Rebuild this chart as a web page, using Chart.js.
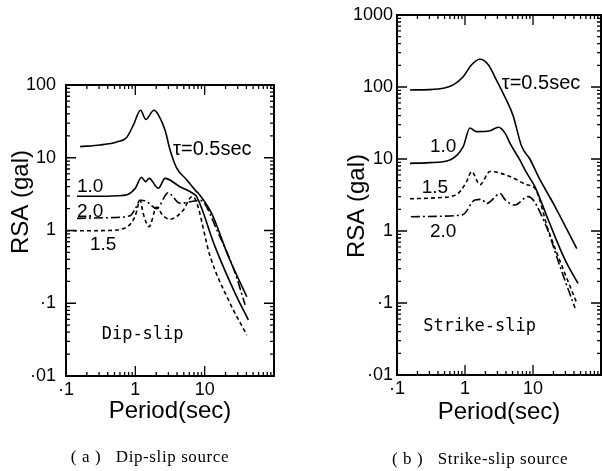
<!DOCTYPE html>
<html lang="en">
<head>
  <meta charset="UTF-8" />
  <title>RSA spectra - dip-slip / strike-slip</title>
  <script src="https://cdn.jsdelivr.net/npm/chart.js"></script>
  <style>
    body { margin: 0; background: #fff; }
    #wrap { position: relative; width: 602px; height: 471px; overflow: hidden; }
    canvas { position: absolute; top: 0; }
    #dip { left: 0; }
    #strike { left: 300px; }
    .cap { position: absolute; text-align: center; white-space: pre;
           font-family: "Liberation Serif", "DejaVu Serif", serif; font-size: 17px; letter-spacing: 0.6px; }
  </style>
</head>
<body>
  <div id="wrap">
    <canvas id="dip" width="300" height="471"></canvas>
    <canvas id="strike" width="302" height="471"></canvas>
    <div class="cap" style="left:0; width:300px; top:447px;">( a )   Dip-slip source</div>
    <div class="cap" style="left:330px; width:300px; top:449px;">( b )   Strike-slip source</div>
  </div>

  <script>
    const FONT = '"Liberation Sans", Arial, sans-serif';

    // axes
    const periodTicks = [0.1, 1, 10];
    const periodTickLabels = ['·1', '1', '10'];
    const dipRsaTicks = [0.01, 0.1, 1, 10, 100];
    const dipRsaTickLabels = ['·01', '·1', '1', '10', '100'];
    const strikeRsaTicks = [0.01, 0.1, 1, 10, 100, 1000];
    const strikeRsaTickLabels = ['·01', '·1', '1', '10', '100', '1000'];
    const tauNames = ['0.5', '1.0', '1.5', '2.0'];

    // [period (sec), RSA (gal)] - dip-slip source
    const dipTau05 = [[0.16, 14.2], [0.31, 15], [0.54, 16.5], [0.75, 19], [0.94, 28.4], [1.19, 45], [1.41, 33.7],
      [1.86, 45], [2.15, 38.8], [2.68, 24], [3.17, 12.8], [3.95, 7.2], [5.5, 5.0], [7.7, 3.4], [8.1, 3.25],
      [12.6, 1.72], [22, 0.44], [40.5, 0.123]];
    const dipTau10 = [[0.144, 2.95], [0.3, 2.95], [0.55, 3.0], [0.76, 3.1], [1.0, 3.8], [1.23, 5.4], [1.4, 4.7],
      [1.58, 5.2], [2.15, 3.8], [2.68, 5.2], [4.4, 4.0], [6.9, 3.2], [7.7, 2.9], [14.1, 0.6], [27.5, 0.137], [42.7, 0.059]];
    const dipTau15 = [[0.1, 0.99], [0.4, 1.0], [0.76, 1.12], [1.0, 1.6], [1.17, 2.6], [1.3, 1.7], [1.58, 1.13],
      [2.03, 2.1], [2.5, 1.6], [3.17, 1.43], [4.9, 1.9], [6.5, 2.9], [7.3, 2.7], [12, 0.44], [22, 0.111], [40.5, 0.0366]];
    const dipTau20 = [[0.144, 1.47], [0.4, 1.5], [0.84, 1.6], [1.0, 2.0], [1.17, 2.6], [1.4, 2.55], [2.03, 2.0],
      [2.97, 3.3], [4.4, 2.37], [6.5, 2.5], [8.6, 2.6], [15.8, 0.91], [27.5, 0.26], [38.3, 0.095]];

    // [period (sec), RSA (gal)] - strike-slip source
    const strikeTau05 = [[0.155, 91], [0.3, 92], [0.5, 97], [0.67, 107], [0.94, 139], [1.25, 204], [1.66, 243],
      [2.2, 204], [2.9, 125], [3.86, 73], [5.1, 40], [6.8, 15], [9, 10], [12, 5.7], [21, 2.2], [44, 0.57]];
    const strikeTau10 = [[0.155, 8.7], [0.3, 8.9], [0.6, 9.7], [0.94, 14.8], [1.18, 27], [1.48, 24], [2.33, 24.7],
      [3.1, 27.6], [3.9, 22.7], [4.6, 16.5], [6.4, 9.7], [8, 6.5], [10.7, 4.1], [16.8, 1.42], [29.5, 0.4], [46, 0.187]];
    const strikeTau15 = [[0.155, 2.8], [0.4, 2.9], [0.75, 3.2], [1.05, 4.8], [1.25, 6.7], [1.66, 4.4], [2.33, 6.7],
      [4.6, 5.7], [8.1, 4.4], [10.7, 3.9], [16.8, 1.03], [28, 0.29], [44, 0.1]];
    const strikeTau20 = [[0.16, 1.58], [0.4, 1.6], [0.8, 1.65], [0.95, 1.7], [1.4, 2.7], [1.76, 2.75], [2.07, 2.4],
      [3.3, 3.3], [3.9, 2.7], [5.4, 2.3], [8.5, 3.0], [15, 1.28], [25, 0.32], [41.5, 0.085]];

    // solid, solid, dotted, dash-dot
    const dashes = [[], [], [4, 3], [9, 3, 2, 3]];

    // in-plot labels, placed in data coordinates
    const dipNotes = [
      { text: 'τ=0.5sec', at: [3.5, 12.8], font: '20px ' + FONT },
      { text: '1.0', at: [0.144, 4.0], font: '19px ' + FONT },
      { text: '2.0', at: [0.144, 1.81], font: '19px ' + FONT },
      { text: '1.5', at: [0.222, 0.63], font: '19px ' + FONT },
      { text: 'Dip-slip', at: [0.327, 0.0366], font: '17px "DejaVu Sans Mono", monospace' }
    ];
    const strikeNotes = [
      { text: 'τ=0.5sec', at: [3.47, 113], font: '20px ' + FONT },
      { text: '1.0', at: [0.305, 14.8], font: '19px ' + FONT },
      { text: '1.5', at: [0.231, 3.95], font: '19px ' + FONT },
      { text: '2.0', at: [0.305, 0.97], font: '19px ' + FONT },
      { text: 'Strike-slip', at: [0.244, 0.047], font: '17px "DejaVu Sans Mono", monospace' }
    ];

    // frame with inward log ticks on all four sides
    const frameTicks = {
      id: 'frameTicks',
      afterDatasetsDraw(chart) {
        const { ctx, chartArea: a, scales: { x, y } } = chart;
        ctx.save();
        ctx.strokeStyle = '#000';
        ctx.lineWidth = 1.3;
        ctx.beginPath();
        const each = (scale, fn) => {
          for (let k = Math.floor(Math.log10(scale.min)); k <= Math.ceil(Math.log10(scale.max)); k++) {
            for (let m = 1; m <= 9; m++) {
              const v = m * Math.pow(10, k);
              if (v < scale.min * 0.999 || v > scale.max * 1.001) continue;
              fn(scale.getPixelForValue(v), m === 1 ? 10 : 4);
            }
          }
        };
        each(x, (p, len) => {
          ctx.moveTo(p, a.bottom); ctx.lineTo(p, a.bottom - len);
          ctx.moveTo(p, a.top); ctx.lineTo(p, a.top + len);
        });
        each(y, (p, len) => {
          ctx.moveTo(a.left, p); ctx.lineTo(a.left + len, p);
          ctx.moveTo(a.right, p); ctx.lineTo(a.right - len, p);
        });
        ctx.stroke();
        ctx.lineWidth = 2;
        ctx.strokeRect(a.left, a.top, a.right - a.left, a.bottom - a.top);
        ctx.restore();
      }
    };

    function notesPlugin(notes, yTitle) {
      return {
        id: 'notes',
        afterDatasetsDraw(chart) {
          const { ctx, scales: { x, y } } = chart;
          ctx.save();
          ctx.fillStyle = '#000';
          ctx.textBaseline = 'middle';
          ctx.textAlign = 'left';
          notes.forEach(n => {
            ctx.font = n.font;
            ctx.fillText(n.text, x.getPixelForValue(n.at[0]), y.getPixelForValue(n.at[1]));
          });
          // rotated y axis title
          ctx.translate(yTitle.x, yTitle.y);
          ctx.rotate(-Math.PI / 2);
          ctx.textAlign = 'center';
          ctx.font = '24px ' + FONT;
          ctx.fillText('RSA (gal)', 0, 0);
          ctx.restore();
        }
      };
    }

    function makePanel(id, series, yTicks, yLabels, box, notes, yTitle) {
      return new Chart(document.getElementById(id), {
        type: 'scatter',
        data: {
          datasets: series.map((s, i) => ({
            label: 'τ=' + tauNames[i] + 'sec',
            data: s.map(p => ({ x: p[0], y: p[1] })),
            showLine: true,
            borderColor: '#000',
            borderWidth: 1.6,
            borderDash: dashes[i],
            pointRadius: 0,
            cubicInterpolationMode: 'monotone'
          }))
        },
        options: {
          responsive: false,
          animation: false,
          devicePixelRatio: 1,
          layout: { padding: box.padding },
          plugins: { legend: { display: false }, tooltip: { enabled: false } },
          scales: {
            x: {
              type: 'logarithmic', min: 0.1, max: 100,
              afterBuildTicks: s => { s.ticks = periodTicks.map(v => ({ value: v })); },
              afterFit: s => { s.height = box.xHeight; },
              grid: { display: false, drawTicks: false },
              border: { display: false },
              ticks: { color: '#000', padding: 3, autoSkip: false, maxRotation: 0,
                       font: { family: FONT, size: 18 }, callback: (v, i) => periodTickLabels[i] },
              title: { display: true, text: 'Period(sec)', color: '#000', padding: 0,
                       font: { family: FONT, size: 24 } }
            },
            y: {
              type: 'logarithmic', min: yTicks[0], max: yTicks[yTicks.length - 1],
              afterBuildTicks: s => { s.ticks = yTicks.map(v => ({ value: v })); },
              afterFit: s => { s.width = box.yWidth; },
              grid: { display: false, drawTicks: false },
              border: { display: false },
              ticks: { color: '#000', padding: box.yPad, autoSkip: false,
                       font: { family: FONT, size: 18 }, callback: (v, i) => yLabels[i] }
            }
          }
        },
        plugins: [frameTicks, notesPlugin(notes, yTitle)]
      });
    }

    makePanel('dip', [dipTau05, dipTau10, dipTau15, dipTau20], dipRsaTicks, dipRsaTickLabels,
      { padding: { left: 0, top: 85, right: 26, bottom: 45 }, xHeight: 50, yWidth: 66, yPad: 10 },
      dipNotes, { x: 21, y: 202 });

    makePanel('strike', [strikeTau05, strikeTau10, strikeTau15, strikeTau20], strikeRsaTicks, strikeRsaTickLabels,
      { padding: { left: 0, top: 15, right: 1, bottom: 44 }, xHeight: 52, yWidth: 97, yPad: 4 },
      strikeNotes, { x: 57, y: 206 });
  </script>
</body>
</html>
